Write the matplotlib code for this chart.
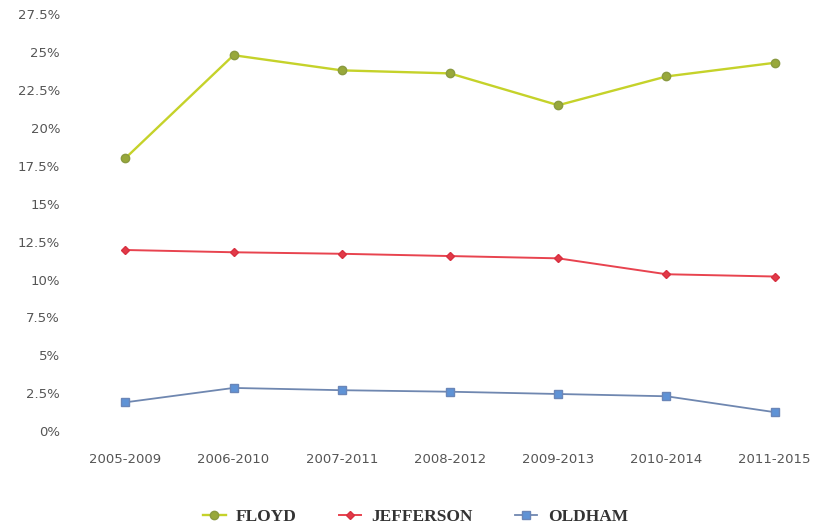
import numpy as np
import matplotlib.pyplot as plt

periods = ["2005-2009", "2006-2010", "2007-2011", "2008-2012", "2009-2013", "2010-2014", "2011-2015"]
floyd = [18.0, 24.8, 23.8, 23.6, 21.5, 23.4, 24.3]
jefferson = [11.95, 11.8, 11.7, 11.55, 11.4, 10.35, 10.2]
oldham = [1.9, 2.85, 2.7, 2.6, 2.45, 2.3, 1.25]
yticks = [0, 2.5, 5, 7.5, 10, 12.5, 15, 17.5, 20, 22.5, 25, 27.5]
ytick_labels = ["0%", "2.5%", "5%", "7.5%", "10%", "12.5%", "15%", "17.5%", "20%", "22.5%", "25%", "27.5%"]

fig = plt.figure(figsize=(8.18, 5.29), dpi=100)
ax = fig.add_axes([0.087, 0.185, 0.913, 0.788])
x = np.arange(len(periods))

ax.plot(x, floyd, color="#c5d22a", lw=1.7, marker="o", ms=6,
        mfc="#98a83a", mec="#8a9a40", label="FLOYD")
ax.plot(x, jefferson, color="#e8434f", lw=1.4, marker="D", ms=4.5,
        mfc="#e23a48", mec="#d83040", label="JEFFERSON")
ax.plot(x, oldham, color="#6f87b0", lw=1.3, marker="s", ms=6,
        mfc="#5f93d6", mec="#6a86b8", label="OLDHAM")

ax.set_xlim(-0.5, 6.4)
ax.set_ylim(0, 27.5)
ax.set_xticks(x)
ax.set_xticklabels(periods, fontsize=9.5, color="#555555")
ax.set_yticks(yticks)
ax.set_yticklabels(ytick_labels, fontsize=9.5, color="#555555")
ax.tick_params(length=0, pad=8)
ax.tick_params(axis="x", pad=16)
for s in ax.spines.values():
    s.set_visible(False)

fig.legend(loc="lower center", bbox_to_anchor=(0.508, -0.022), ncol=3, frameon=False,
           prop={"family": "Liberation Serif", "weight": "bold", "size": 12.5},
           handlelength=1.3, columnspacing=2.4, handletextpad=0.6,
           labelcolor="#333333")

fig.savefig("out.png", dpi=100)
